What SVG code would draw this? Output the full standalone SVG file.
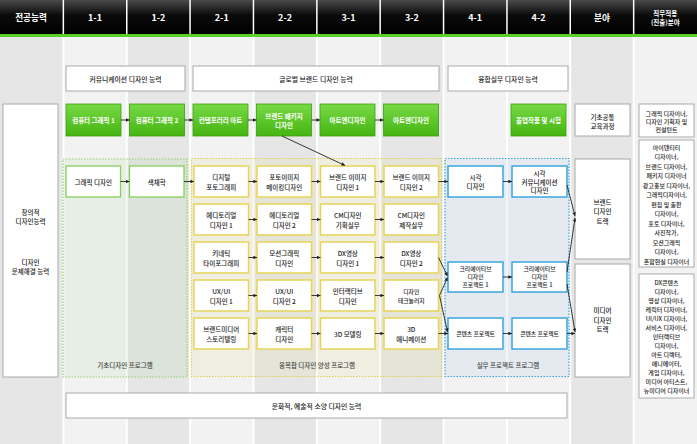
<svg xmlns="http://www.w3.org/2000/svg" width="697" height="444" viewBox="0 0 697 444">
<defs>
<linearGradient id="hdr" x1="0" y1="0" x2="0" y2="1">
<stop offset="0" stop-color="#4a4a4a"/><stop offset="0.45" stop-color="#0a0a0a"/><stop offset="1" stop-color="#000"/>
</linearGradient>
<linearGradient id="grn" x1="0" y1="0" x2="0" y2="1">
<stop offset="0" stop-color="#78da45"/><stop offset="1" stop-color="#45b412"/>
</linearGradient>
<marker id="ah" viewBox="0 0 6 6" refX="6" refY="3" markerWidth="4" markerHeight="4" orient="auto">
<path d="M0,0 L6,3 L0,6 z" fill="#222"/>
</marker>
<style>
text{font-family:"Noto Sans CJK KR","Noto Sans",sans-serif;fill:#222;text-anchor:middle;dominant-baseline:central;font-weight:500}
.hd{fill:#fff;font-size:9px;font-weight:bold}
.hds{fill:#fff;font-size:6.5px;font-weight:bold}
.lt{fill:#f2f2f2}
.dk{fill:#e6e6e6}
.ab{fill:#fff;stroke:#aaa;stroke-width:1}
.abt{font-size:6.8px}
.gb{fill:url(#grn);stroke:#3f9e12;stroke-width:0.8}
.gbt{fill:#fff;font-size:6.5px;font-weight:bold}
.wb{fill:#fff;stroke:#aaa;stroke-width:1}
.fc{fill:#fff;stroke:#86cf5c;stroke-width:1.3}
.yc{fill:#fff;stroke:#e6d458;stroke-width:1.5}
.bc{fill:#fff;stroke:#3aa6de;stroke-width:1.5}
.ct{font-size:6.5px}
.cs{font-size:5.8px}
.pg{fill:#8ccc60;fill-opacity:0.1;stroke:#8fd36a;stroke-width:1.2;stroke-dasharray:1.5 1.5}
.py{fill:#e8d860;fill-opacity:0.12;stroke:#e0d050;stroke-width:1.2;stroke-dasharray:1.5 1.5}
.pb{fill:#6aa8e0;fill-opacity:0.1;stroke:#3aa4dc;stroke-width:1.2;stroke-dasharray:1.5 1.5}
.pl{font-size:6.5px;fill:#444}
.jt{font-size:6px}
.cn line{stroke:#222;stroke-width:0.9;marker-end:url(#ah)}
</style>
</defs>
<rect x="0" y="0" width="697" height="444" fill="#fff"/>
<g id="columns">
<rect class="dk" x="0" y="37" width="62.4" height="407"/>
<rect class="lt" x="64.4" y="37" width="61.4" height="407"/>
<rect class="dk" x="127.7" y="37" width="61.4" height="407"/>
<rect class="lt" x="191.1" y="37" width="61.4" height="407"/>
<rect class="dk" x="254.5" y="37" width="61.4" height="407"/>
<rect class="lt" x="317.8" y="37" width="61.4" height="407"/>
<rect class="dk" x="381.2" y="37" width="61.4" height="407"/>
<rect class="lt" x="444.5" y="37" width="61.4" height="407"/>
<rect class="lt" x="507.9" y="37" width="61.4" height="407"/>
<rect class="dk" x="571.3" y="37" width="61.4" height="407"/>
<rect class="lt" x="634.6" y="37" width="62.4" height="407"/>
</g>
<g id="header">
<rect x="0" y="0" width="697" height="34" fill="url(#hdr)"/>
<rect x="0" y="34" width="697" height="3" fill="#5ccf26"/>
<g fill="#fff">
<rect x="62.6" y="0" width="1.5" height="34"/>
<rect x="126" y="0" width="1.5" height="34"/>
<rect x="189.3" y="0" width="1.5" height="34"/>
<rect x="252.7" y="0" width="1.5" height="34"/>
<rect x="316.1" y="0" width="1.5" height="34"/>
<rect x="379.4" y="0" width="1.5" height="34"/>
<rect x="442.8" y="0" width="1.5" height="34"/>
<rect x="506.2" y="0" width="1.5" height="34"/>
<rect x="569.5" y="0" width="1.5" height="34"/>
<rect x="632.9" y="0" width="1.5" height="34"/>
</g>
<text class="hd" x="31" y="17" style="font-size:8.6px">전공능력</text>
<text class="hd" x="95" y="17">1-1</text>
<text class="hd" x="158.4" y="17">1-2</text>
<text class="hd" x="221.8" y="17">2-1</text>
<text class="hd" x="285.1" y="17">2-2</text>
<text class="hd" x="348.5" y="17">3-1</text>
<text class="hd" x="411.9" y="17">3-2</text>
<text class="hd" x="475.2" y="17">4-1</text>
<text class="hd" x="538.6" y="17">4-2</text>
<text class="hd" x="602" y="17" style="font-size:8.6px">분야</text>
<text class="hds" x="665.3" y="13">직무적용</text>
<text class="hds" x="665.3" y="21.5">(진출)분야</text>
</g>
<g id="ability-communication"><rect class="ab" x="66" y="66" width="119" height="25"/><text class="abt" x="125.5" y="78.5">커뮤니케이션 디자인 능력</text></g>
<g id="ability-global-brand"><rect class="ab" x="193" y="66" width="246" height="25"/><text class="abt" x="316" y="78.5">글로벌 브랜드 디자인 능력</text></g>
<g id="ability-convergence"><rect class="ab" x="448" y="66" width="120" height="25"/><text class="abt" x="508" y="78.5">융합실무 디자인 능력</text></g>
<g id="ability-culture"><rect class="ab" x="66" y="393" width="501" height="25"/><text class="abt" x="316.5" y="405.5">문화적, 예술적 소양 디자인 능력</text></g>
<g id="major-ability"><rect class="wb" x="3" y="104" width="55" height="273"/>
<text class="ct" x="30.5" y="212">창의적</text><text class="ct" x="30.5" y="221">디자인능력</text>
<text class="ct" x="30.5" y="262">디자인</text><text class="ct" x="30.5" y="271">문제해결 능력</text></g>
<g id="program-basic"><rect class="pg" x="63" y="159" width="124" height="218"/><text class="pl" x="125" y="365">기초디자인 프로그램</text></g>
<g id="program-convergence"><rect class="py" x="191.5" y="158.5" width="250" height="218"/><text class="pl" x="317" y="365">융복합 디자인 양성 프로그램</text></g>
<g id="program-practice"><rect class="pb" x="445" y="158.5" width="124" height="218"/><text class="pl" x="508" y="365">실무 프로젝트 프로그램</text></g>
<g id="cg1"><rect class="gb" x="66" y="104" width="55" height="32"/><text class="gbt" x="93.5" y="120">컴퓨터 그래픽 1</text></g>
<g id="cg2"><rect class="gb" x="129.5" y="104" width="55" height="32"/><text class="gbt" x="157" y="120">컴퓨터 그래픽 2</text></g>
<g id="contemporary-art"><rect class="gb" x="193" y="104" width="55" height="32"/><text class="gbt" x="220.5" y="120">컨템포러리 아트</text></g>
<g id="brand-package"><rect class="gb" x="256.5" y="104" width="55" height="32"/><text class="gbt" x="284" y="115.5">브랜드 패키지</text><text class="gbt" x="284" y="124.5">디자인</text></g>
<g id="art-design-1"><rect class="gb" x="320" y="104" width="55" height="32"/><text class="gbt" x="347.5" y="120">아트엔디자인</text></g>
<g id="art-design-2"><rect class="gb" x="383.5" y="104" width="55" height="32"/><text class="gbt" x="411" y="120">아트엔디자인</text></g>
<g id="graduation"><rect class="gb" x="511" y="104" width="55" height="32"/><text class="gbt" x="538.5" y="120">졸업작품 및 시험</text></g>
<g id="common-course"><rect class="wb" x="575" y="104" width="55" height="32"/><text class="ct" x="602.5" y="116.5">기초공통</text><text class="ct" x="602.5" y="125.5">교육과정</text></g>
<g id="job-common"><rect class="wb" x="639" y="104" width="55" height="33"/>
<text class="jt" x="666.5" y="113">그래픽 디자이너,</text><text class="jt" x="666.5" y="121">디자인 기획자 및</text><text class="jt" x="666.5" y="129">컨설턴트</text></g>
<g id="graphic-design"><rect class="fc" x="66" y="166" width="54.5" height="31"/><text class="ct" x="93.25" y="181.5">그래픽 디자인</text></g>
<g id="color-theory"><rect class="fc" x="129.5" y="166" width="54.5" height="31"/><text class="ct" x="156.75" y="181.5">색채학</text></g>
<g id="digital-photo"><rect class="yc" x="194" y="166" width="54.5" height="31"/><text class="ct" x="221.25" y="176.5">디지털</text><text class="ct" x="221.25" y="186.5">포토그래피</text></g>
<g id="photo-image"><rect class="yc" x="257" y="166" width="54.5" height="31"/><text class="ct" x="284.25" y="176.5">포토이미지</text><text class="ct" x="284.25" y="186.5">메이킹디자인</text></g>
<g id="brand-image-1"><rect class="yc" x="320.5" y="166" width="54.5" height="31"/><text class="ct" x="347.75" y="176.5">브랜드 이미지</text><text class="ct" x="347.75" y="186.5">디자인 1</text></g>
<g id="brand-image-2"><rect class="yc" x="384" y="166" width="54.5" height="31"/><text class="ct" x="411.25" y="176.5">브랜드 이미지</text><text class="ct" x="411.25" y="186.5">디자인 2</text></g>
<g id="editorial-1"><rect class="yc" x="194" y="204" width="54.5" height="31"/><text class="ct" x="221.25" y="214.5">에디토리얼</text><text class="ct" x="221.25" y="224.5">디자인 1</text></g>
<g id="editorial-2"><rect class="yc" x="257" y="204" width="54.5" height="31"/><text class="ct" x="284.25" y="214.5">에디토리얼</text><text class="ct" x="284.25" y="224.5">디자인 2</text></g>
<g id="cm-plan"><rect class="yc" x="320.5" y="204" width="54.5" height="31"/><text class="ct" x="347.75" y="214.5">CM디자인</text><text class="ct" x="347.75" y="224.5">기획실무</text></g>
<g id="cm-make"><rect class="yc" x="384" y="204" width="54.5" height="31"/><text class="ct" x="411.25" y="214.5">CM디자인</text><text class="ct" x="411.25" y="224.5">제작실무</text></g>
<g id="kinetic"><rect class="yc" x="194" y="242" width="54.5" height="31"/><text class="ct" x="221.25" y="252.5">키네틱</text><text class="ct" x="221.25" y="262.5">타이포그래피</text></g>
<g id="motion"><rect class="yc" x="257" y="242" width="54.5" height="31"/><text class="ct" x="284.25" y="252.5">모션그래픽</text><text class="ct" x="284.25" y="262.5">디자인</text></g>
<g id="dx-1"><rect class="yc" x="320.5" y="242" width="54.5" height="31"/><text class="ct" x="347.75" y="252.5">DX영상</text><text class="ct" x="347.75" y="262.5">디자인 1</text></g>
<g id="dx-2"><rect class="yc" x="384" y="242" width="54.5" height="31"/><text class="ct" x="411.25" y="252.5">DX영상</text><text class="ct" x="411.25" y="262.5">디자인 2</text></g>
<g id="uxui-1"><rect class="yc" x="194" y="280" width="54.5" height="31"/><text class="ct" x="221.25" y="290.5">UX/UI</text><text class="ct" x="221.25" y="300.5">디자인 1</text></g>
<g id="uxui-2"><rect class="yc" x="257" y="280" width="54.5" height="31"/><text class="ct" x="284.25" y="290.5">UX/UI</text><text class="ct" x="284.25" y="300.5">디자인 2</text></g>
<g id="interactive"><rect class="yc" x="320.5" y="280" width="54.5" height="31"/><text class="ct" x="347.75" y="290.5">인터랙티브</text><text class="ct" x="347.75" y="300.5">디자인</text></g>
<g id="design-tech"><rect class="yc" x="384" y="280" width="54.5" height="31"/><text class="cs" x="411.25" y="291">디자인</text><text class="cs" x="411.25" y="300">테크놀러지</text></g>
<g id="brand-media"><rect class="yc" x="194" y="318" width="54.5" height="31"/><text class="ct" x="221.25" y="328.5">브랜드미디어</text><text class="ct" x="221.25" y="338.5">스토리텔링</text></g>
<g id="character"><rect class="yc" x="257" y="318" width="54.5" height="31"/><text class="ct" x="284.25" y="328.5">캐릭터</text><text class="ct" x="284.25" y="338.5">디자인</text></g>
<g id="modeling-3d"><rect class="yc" x="320.5" y="318" width="54.5" height="31"/><text class="ct" x="347.75" y="333.5">3D 모델링</text></g>
<g id="animation-3d"><rect class="yc" x="384" y="318" width="54.5" height="31"/><text class="ct" x="411.25" y="328.5">3D</text><text class="ct" x="411.25" y="338.5">애니메이션</text></g>
<g id="visual-design"><rect class="bc" x="448" y="166" width="55" height="31"/><text class="ct" x="475.5" y="176.5">시각</text><text class="ct" x="475.5" y="185.5">디자인</text></g>
<g id="visual-comm"><rect class="bc" x="512" y="166" width="55" height="31"/><text class="ct" x="539.5" y="173">시각</text><text class="ct" x="539.5" y="181.5">커뮤니케이션</text><text class="ct" x="539.5" y="190">디자인</text></g>
<g id="creative-1a"><rect class="bc" x="448" y="262" width="55" height="30"/><text class="cs" x="475.5" y="268.5">크리에이티브</text><text class="cs" x="475.5" y="276.5">디자인</text><text class="cs" x="475.5" y="284.5">프로젝트 1</text></g>
<g id="creative-1b"><rect class="bc" x="512" y="262" width="55" height="30"/><text class="cs" x="539.5" y="268.5">크리에이티브</text><text class="cs" x="539.5" y="276.5">디자인</text><text class="cs" x="539.5" y="284.5">프로젝트 1</text></g>
<g id="contents-a"><rect class="bc" x="448" y="318" width="55" height="31"/><text class="cs" x="475.5" y="333.5">콘텐츠 프로젝트</text></g>
<g id="contents-b"><rect class="bc" x="512" y="318" width="55" height="31"/><text class="cs" x="539.5" y="333.5">콘텐츠 프로젝트</text></g>
<g id="brand-track"><rect class="wb" x="575" y="159" width="55" height="100"/><text class="ct" x="602.5" y="201.5">브랜드</text><text class="ct" x="602.5" y="211">디자인</text><text class="ct" x="602.5" y="220.5">트랙</text></g>
<g id="media-track"><rect class="wb" x="575" y="264" width="55" height="113"/><text class="ct" x="602.5" y="310">미디어</text><text class="ct" x="602.5" y="319.5">디자인</text><text class="ct" x="602.5" y="329">트랙</text></g>
<g id="job-brand"><rect class="wb" x="639" y="140" width="55" height="127"/>
<text class="jt" x="666.5" y="147">아이덴티티</text><text class="jt" x="666.5" y="156.5">디자이너,</text><text class="jt" x="666.5" y="166">브랜드 디자이너,</text><text class="jt" x="666.5" y="175.5">패키지 디자이너</text><text class="jt" x="666.5" y="185">광고홍보 디자이너,</text><text class="jt" x="666.5" y="194.5">그래픽디자이너,</text><text class="jt" x="666.5" y="204">편집 및 출판</text><text class="jt" x="666.5" y="213.5">디자이너,</text><text class="jt" x="666.5" y="223">포토 디자이너,</text><text class="jt" x="666.5" y="232.5">사진작가,</text><text class="jt" x="666.5" y="242">모션그래픽</text><text class="jt" x="666.5" y="251.5">디자이너,</text><text class="jt" x="666.5" y="261">혼합현실 디자이너</text></g>
<g id="job-media"><rect class="wb" x="639" y="274" width="55" height="124"/>
<text class="jt" x="666.5" y="282">DX콘텐츠</text><text class="jt" x="666.5" y="291">디자이너,</text><text class="jt" x="666.5" y="300">영상 디자이너,</text><text class="jt" x="666.5" y="309">캐릭터 디자이너,</text><text class="jt" x="666.5" y="318">UI/UX 디자이너,</text><text class="jt" x="666.5" y="327">서비스 디자이너,</text><text class="jt" x="666.5" y="336">인터랙티브</text><text class="jt" x="666.5" y="345">디자이너,</text><text class="jt" x="666.5" y="354">아트 디렉터,</text><text class="jt" x="666.5" y="363">애니메이터,</text><text class="jt" x="666.5" y="372">게임 디자이너,</text><text class="jt" x="666.5" y="381">미디어 아티스트,</text><text class="jt" x="666.5" y="390">뉴미디어 디자이너</text></g>
<g id="connectors" class="cn">
<line x1="121" y1="120" x2="129.5" y2="120"/>
<line x1="184.5" y1="120" x2="193" y2="120"/>
<line x1="248" y1="120" x2="256.5" y2="120"/>
<line x1="311.5" y1="120" x2="320" y2="120"/>
<line x1="375" y1="120" x2="383.5" y2="120"/>
<line x1="282" y1="136" x2="345" y2="165.5"/>
<line x1="120.5" y1="181.5" x2="129.5" y2="181.5"/>
<line x1="184" y1="181.5" x2="194" y2="181.5"/>
<line x1="248.5" y1="181.5" x2="257" y2="181.5"/>
<line x1="311.5" y1="181.5" x2="320.5" y2="181.5"/>
<line x1="375" y1="181.5" x2="384" y2="181.5"/>
<line x1="438.5" y1="181.5" x2="448" y2="181.5"/>
<line x1="248.5" y1="219.5" x2="257" y2="219.5"/>
<line x1="311.5" y1="219.5" x2="320.5" y2="219.5"/>
<line x1="375" y1="219.5" x2="384" y2="219.5"/>
<line x1="248.5" y1="257.5" x2="257" y2="257.5"/>
<line x1="311.5" y1="257.5" x2="320.5" y2="257.5"/>
<line x1="375" y1="257.5" x2="384" y2="257.5"/>
<line x1="248.5" y1="295.5" x2="257" y2="295.5"/>
<line x1="311.5" y1="295.5" x2="320.5" y2="295.5"/>
<line x1="375" y1="295.5" x2="384" y2="295.5"/>
<line x1="248.5" y1="333.5" x2="257" y2="333.5"/>
<line x1="311.5" y1="333.5" x2="320.5" y2="333.5"/>
<line x1="375" y1="333.5" x2="384" y2="333.5"/>
<line x1="438.5" y1="333.5" x2="448" y2="333.5"/>
<line x1="438.5" y1="257.5" x2="447.5" y2="276"/>
<line x1="439.5" y1="295.5" x2="447.5" y2="277.5"/>
<line x1="439.5" y1="295.5" x2="447.5" y2="332"/>
<line x1="503" y1="181.5" x2="512" y2="181.5"/>
<line x1="503" y1="277" x2="512" y2="277"/>
<line x1="503" y1="333.5" x2="512" y2="333.5"/>
<line x1="567" y1="185" x2="575" y2="216"/>
<line x1="567" y1="272" x2="575" y2="218"/>
<line x1="567" y1="284" x2="575" y2="332"/>
<line x1="567" y1="333.5" x2="575" y2="333.5"/>
</g>
</svg>
